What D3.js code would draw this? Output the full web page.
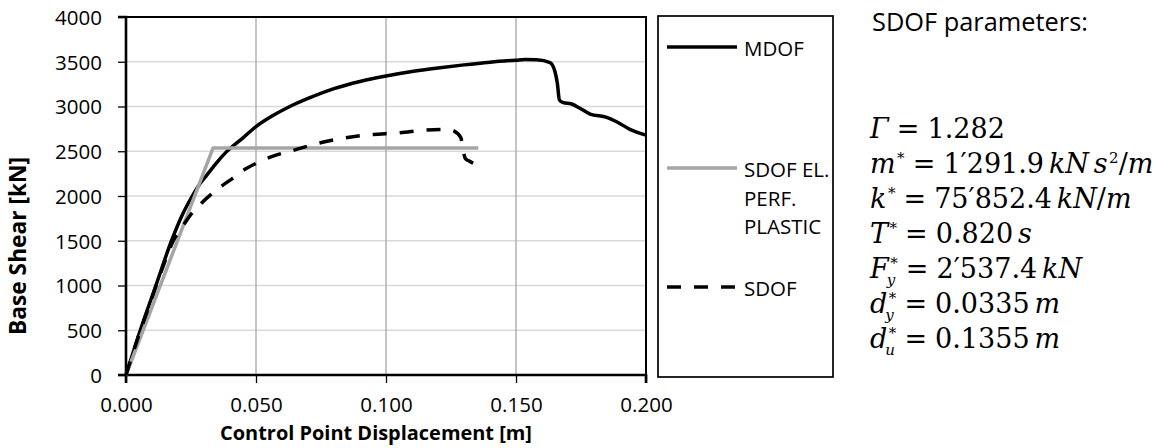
<!DOCTYPE html>
<html><head><meta charset="utf-8">
<script src="https://cdn.jsdelivr.net/npm/d3@7"></script>
<style>body{margin:0;background:#fff}svg{display:block}</style>
</head><body>
<svg id="c" width="1166" height="448"></svg>
<script>
// ---------- data ----------
const xTicks = [0, 0.05, 0.1, 0.15, 0.2];
const yTicks = [0, 500, 1000, 1500, 2000, 2500, 3000, 3500, 4000];

const mdofD = [0,0.0055,0.0115,0.0175,0.0215,0.0255,0.0278,0.031,0.0345,0.0385,0.045,0.05,0.056,0.063,0.07,0.08,0.09,0.1,0.11,0.12,0.13,0.14,0.15,0.1535,0.158,0.1631,0.165,0.1659,0.1667,0.1682,0.1714,0.1746,0.1785,0.1849,0.1887,0.1938,0.2];
const mdofF = [0,500,1000,1500,1780,2000,2110,2230,2360,2490,2650,2775,2890,3000,3090,3200,3280,3340,3390,3430,3465,3495,3518,3525,3522,3490,3389,3259,3073,3043,3028,2980,2916,2879,2830,2745,2680];

const eppD = [0, 0.0335, 0.1355];
const eppF = [0, 2537.4, 2537.4];

const sdofD = [0,0.0043,0.009,0.0137,0.0182,0.0227,0.0246,0.0285,0.0326,0.0365,0.0409,0.045,0.05,0.056,0.065,0.0733,0.0797,0.0926,0.1054,0.1156,0.1233,0.1262,0.1288,0.1296,0.1305,0.132,0.1336,0.1358];
const sdofF = [0,390,780,1170,1500,1700,1780,1905,2015,2105,2195,2285,2365,2440,2515,2585,2626,2682,2707,2737,2744,2726,2650,2520,2420,2390,2365,2330];

const legendLabels = [["MDOF"], ["SDOF EL.", "PERF.", "PLASTIC"], ["SDOF"]];
const xTitle = "Control Point Displacement [m]";
const yTitle = "Base Shear [kN]";
const paramTitle = "SDOF parameters:";
const paramRows = [
  [["Γ","v"],["=","op"],["1.282","n"]],
  [["m","v"],["*","sup"],["=","op"],["1′291.9","n"],["kN","u"],["s","u"],["2","sup"],["/","n"],["m","v"]],
  [["k","v"],["*","sup"],["=","op"],["75′852.4","n"],["kN","u"],["/","n"],["m","v"]],
  [["T","v"],["*","sup"],["=","op"],["0.820","n"],["s","u"]],
  [["F","v"],["*|y","ss"],["=","op"],["2′537.4","n"],["kN","u"]],
  [["d","v"],["*|y","ss"],["=","op"],["0.0335","n"],["m","u"]],
  [["d","v"],["*|u","ss"],["=","op"],["0.1355","n"],["m","u"]]
];

// ---------- layout ----------
const svg = d3.select("#c");
const L = 126, R = 646, T = 17, B = 375;
const x = d3.scaleLinear().domain([0, 0.2]).range([L, R]);
const y = d3.scaleLinear().domain([0, 4000]).range([B, T]);
const sans = "'Open Sans', 'Noto Sans', sans-serif";
const serif = "'DejaVu Serif', serif";

function fit(sel, w) {
  const n = sel.node(); const len = n.getComputedTextLength();
  const fs = parseFloat(sel.attr("font-size"));
  sel.attr("font-size", fs * w / len);
}

// gridlines
svg.append("g").selectAll("line").data(yTicks.filter(v => v > 0 && v < 4000)).join("line")
  .attr("x1", L).attr("x2", R).attr("y1", d => y(d)).attr("y2", d => y(d))
  .attr("stroke", "#d9d9d9").attr("stroke-width", 1.5);
svg.append("g").selectAll("line").data(xTicks.filter(v => v > 0 && v < 0.2)).join("line")
  .attr("x1", d => x(d)).attr("x2", d => x(d)).attr("y1", T).attr("y2", B)
  .attr("stroke", "#a6a6a6").attr("stroke-width", 1.3);

// frame top/right
svg.append("path").attr("d", `M${L},${T}H${R}V${B}`).attr("fill", "none")
  .attr("stroke", "#000").attr("stroke-width", 2);

// axes
const yAxis = svg.append("g").attr("transform", `translate(${L},0)`)
  .call(d3.axisLeft(y).tickValues(yTicks).tickSize(8).tickPadding(16).tickFormat(d3.format("d")));
const xAxis = svg.append("g").attr("transform", `translate(0,${B})`)
  .call(d3.axisBottom(x).tickValues(xTicks).tickSize(8).tickPadding(14).tickFormat(d3.format(".3f")));
[yAxis, xAxis].forEach(a => {
  a.select(".domain").attr("stroke", "#000").attr("stroke-width", 2.6);
  a.selectAll(".tick line").attr("stroke", "#000").attr("stroke-width", 1.3);
  a.selectAll(".tick text").attr("font-family", sans).attr("font-size", 20.5).attr("fill", "#000");
});
yAxis.select(".domain").attr("d", `M-8,${B}H0V${T}H-8`);
xAxis.select(".domain").attr("d", `M${L},8V0H${R}V8`);
yAxis.selectAll(".tick text").attr("dy", "0.36em");
xAxis.selectAll(".tick text").attr("dy", "0.71em");

// series
const line = d3.line().x(d => x(d[0])).y(d => y(d[1])).curve(d3.curveMonotoneX);
const lineLin = d3.line().x(d => x(d[0])).y(d => y(d[1]));
svg.append("path").attr("d", line(d3.zip(mdofD, mdofF))).attr("fill", "none")
  .attr("stroke", "#000").attr("stroke-width", 3.5).attr("stroke-linejoin", "round");
svg.append("path").attr("d", lineLin(d3.zip(eppD, eppF))).attr("fill", "none")
  .attr("stroke", "#a5a5a5").attr("stroke-width", 3.5).attr("stroke-linejoin", "round");
svg.append("path").attr("d", line(d3.zip(sdofD, sdofF))).attr("fill", "none")
  .attr("stroke", "#000").attr("stroke-width", 3.5).attr("stroke-dasharray", "14,13");

// axis titles
const xt = svg.append("text").attr("x", 376).attr("y", 440).attr("text-anchor", "middle")
  .attr("font-family", sans).attr("font-weight", "bold").attr("font-size", 20).text(xTitle);
fit(xt, 312);
const yt = svg.append("text").attr("transform", "translate(26,246) rotate(-90)").attr("text-anchor", "middle")
  .attr("font-family", sans).attr("font-weight", "bold").attr("font-size", 20).text(yTitle);
fit(yt, 178);

// legend
svg.append("rect").attr("x", 658).attr("y", 16).attr("width", 175).attr("height", 361)
  .attr("fill", "none").attr("stroke", "#000").attr("stroke-width", 1.7);
const legStyle = [
  {c: "#000", dash: null, y: 47},
  {c: "#a5a5a5", dash: null, y: 168},
  {c: "#000", dash: "14,13", y: 287}
];
legendLabels.forEach((labs, i) => {
  const s = legStyle[i];
  svg.append("line").attr("x1", 667).attr("x2", 737).attr("y1", s.y).attr("y2", s.y)
    .attr("stroke", s.c).attr("stroke-width", 3.5).attr("stroke-dasharray", s.dash);
  labs.forEach((t, j) => {
    svg.append("text").attr("x", 744).attr("y", s.y + 9 + j * 28.5)
      .attr("font-family", sans).attr("font-size", 20.5).text(t);
  });
});

// parameters
const pt = svg.append("text").attr("x", 872).attr("y", 31).attr("font-family", sans)
  .attr("font-size", 24).text(paramTitle);
fit(pt, 216);

const fsBase = 27, fsScript = 15;
const supOff = 10.3, subOff = 6.5;
const baselines = [138, 173, 208, 243, 278, 313, 348];
paramRows.forEach((row, r) => {
  let cx = 870; const by = baselines[r];
  const g = svg.append("g");
  const put = (txt, xx, yy, fs, ital) => {
    const t = g.append("text").attr("x", xx).attr("y", yy).attr("font-family", serif)
      .attr("font-size", fs).attr("font-style", ital ? "italic" : "normal").text(txt);
    return t.node().getComputedTextLength();
  };
  row.forEach(([txt, k]) => {
    if (k === "v") cx += put(txt, cx, by, fsBase, true);
    else if (k === "n") cx += put(txt, cx, by, fsBase, false);
    else if (k === "op") { cx += 0.3 * fsBase; cx += put(txt, cx, by, fsBase, false); cx += 0.3 * fsBase; }
    else if (k === "u") { cx += 0.18 * fsBase; cx += put(txt, cx, by, fsBase, true); }
    else if (k === "sup") { cx += 1.5; cx += put(txt, cx, by - supOff, fsScript, false); }
    else if (k === "ss") {
      const [a, b] = txt.split("|");
      const w1 = put(a, cx + 1.5, by - supOff, fsScript, false);
      const w2 = put(b, cx - 2, by + subOff, fsScript, true);
      cx += Math.max(w1 + 1.5, w2 - 2);
    }
  });
});
</script>
</body></html>
